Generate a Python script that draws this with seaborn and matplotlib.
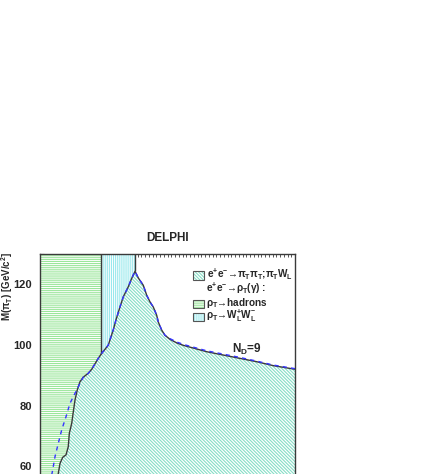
import numpy as np
import matplotlib
matplotlib.use("Agg")
import matplotlib.pyplot as plt
from matplotlib.patches import Rectangle
from matplotlib.ticker import MultipleLocator
import seaborn as sns

# ---- data ----
# solid exclusion contour: x = M(rho_T) [GeV], y = M(pi_T) [GeV/c^2]
x_solid = [102.8, 104.4, 106.7, 110.3, 114.7, 117.7, 119.1, 122.3, 124.4, 126.7, 129.7,
           133.3, 137.7, 144.4, 148.9, 153.3, 157.7, 162.3, 166.7, 171.1, 173.3, 177.7,
           181.3, 186.7, 191.1, 197.7, 202.3, 206.7, 211.1, 213.3, 217.7, 222.3, 226.7,
           231.1, 235.6, 237.7, 242.3, 246.7, 253.3, 262.3, 271.1, 280.0, 302.2, 324.4,
           346.7, 368.9, 391.1, 420.4]
y_solid = [54.0, 57.7, 61.0, 63.0, 63.8, 66.5, 70.9, 74.2, 78.0, 81.9, 85.2,
           87.9, 89.4, 90.7, 92.0, 93.8, 95.6, 97.3, 98.6, 100.0, 101.7, 105.0,
           108.3, 112.6, 115.9, 119.2, 122.0, 124.3, 122.1, 121.3, 119.7, 116.4, 114.2,
           112.5, 109.8, 107.6, 104.9, 103.2, 101.9, 100.7, 99.9, 99.3, 97.8, 96.7,
           95.6, 94.5, 93.2, 92.0]
# dashed expected contour
x_dash = [93.0, 96.9, 100.0, 104.4, 108.9, 114.7, 120.0, 126.7, 133.3, 137.7, 144.4,
          148.9, 153.3, 157.7, 162.3, 166.7, 171.1, 173.3, 177.7, 181.3, 186.7, 191.1,
          197.7, 202.3, 206.7, 211.1, 213.3, 217.7, 222.3, 226.7, 231.1, 235.6, 237.7,
          242.3, 246.7, 253.3, 262.3, 271.1, 280.0, 302.2, 324.4, 346.7, 368.9, 391.1,
          420.4]
y_dash = [54.0, 58.8, 63.2, 67.6, 72.0, 76.4, 80.8, 84.1, 87.4, 89.4, 90.7,
          92.0, 93.8, 95.6, 97.3, 98.6, 100.0, 101.7, 105.0, 108.3, 112.6, 115.9,
          119.2, 122.0, 124.3, 122.1, 121.3, 119.7, 116.4, 114.2, 112.5, 109.8, 107.6,
          104.9, 103.2, 102.1, 101.0, 100.2, 99.6, 98.1, 97.0, 95.9, 94.7, 93.4,
          92.2]
ww_threshold = 161.3      # boundary hadrons / W_L W_L region
sqrt_s = 206.7            # right edge of W_L W_L region
x_range = [80.0, 420.0]
y_range = [54.2, 130.0]
y_ticks = [60, 80, 100, 120]
legend_labels = [
    r'e$^{+}$e$^{-}$→π$_{T}$π$_{T}$;π$_{T}$W$_{L}$',
    r'e$^{+}$e$^{-}$→ρ$_{T}$(γ) :',
    r'ρ$_{T}$→hadrons',
    r'ρ$_{T}$→W$_{L}^{+}$W$_{L}^{-}$',
]

# ---- style ----
sns.set_theme(style="white")
plt.rcParams['font.family'] = ['Liberation Sans', 'DejaVu Sans']
plt.rcParams['font.weight'] = 'bold'
plt.rcParams['mathtext.fontset'] = 'custom'
plt.rcParams['mathtext.rm'] = 'Liberation Sans:bold'
plt.rcParams['mathtext.it'] = 'Liberation Sans:bold'
plt.rcParams['mathtext.bf'] = 'Liberation Sans:bold'
plt.rcParams['hatch.linewidth'] = 0.8

c_diag = '#86dec6'
c_green = '#9ae69a'
c_cyan = '#98e8ec'
c_line = '#3a3a3a'
c_blue = '#3535ff'
h_diag = '\\' * 10
h_green = '-' * 8
h_cyan = '|' * 8

fig = plt.figure(figsize=(4.25, 4.74), dpi=100)
ax = fig.add_axes([40/425, 1 - 484/474, 255/425, 230/474])

xs = np.array(x_solid)
ys = np.array(y_solid)
y_thr = np.interp(ww_threshold, xs, ys)
y_top = y_range[1]
y_bot = y_range[0] - 1

# diagonal-hatched region below the contour
ax.fill_between(xs, y_bot, ys, facecolor='white', edgecolor=c_diag,
                hatch=h_diag, linewidth=0, zorder=1)

# green (rho_T -> hadrons) region
m = xs < ww_threshold
gx = np.concatenate([[x_range[0], xs[0]], xs[m], [ww_threshold, ww_threshold, x_range[0]]])
gy = np.concatenate([[y_bot, y_bot], ys[m], [y_thr, y_top, y_top]])
ax.fill(gx, gy, facecolor='white', edgecolor=c_green, hatch=h_green, linewidth=0, zorder=1)

# cyan (rho_T -> W_L W_L) region
m2 = (xs > ww_threshold) & (xs <= sqrt_s)
cx = np.concatenate([[ww_threshold], xs[m2], [sqrt_s, ww_threshold]])
cy = np.concatenate([[y_thr], ys[m2], [y_top, y_top]])
ax.fill(cx, cy, facecolor='white', edgecolor=c_cyan, hatch=h_cyan, linewidth=0, zorder=1)

ax.vlines([ww_threshold], y_thr, y_top, color=c_line, lw=1.0, zorder=3)
ax.vlines([sqrt_s], np.interp(sqrt_s, xs, ys), y_top, color=c_line, lw=1.0, zorder=3)

sns.lineplot(x=x_solid, y=y_solid, ax=ax, color=c_line, lw=1.0, zorder=4, sort=False)
sns.lineplot(x=x_dash, y=y_dash, ax=ax, color=c_blue, lw=1.0, zorder=5, sort=False,
             linestyle=(0, (3, 3)))

ax.set_xlim(x_range)
ax.set_ylim(y_range)
ax.set_yticks(y_ticks)
ax.yaxis.set_minor_locator(MultipleLocator(5))
ax.xaxis.set_major_locator(MultipleLocator(5))
ax.tick_params(axis='y', which='major', direction='in', length=6.5, width=0.9,
               color=c_line, labelsize=8, pad=5.5, left=True, right=False)
ax.tick_params(axis='y', which='minor', direction='in', length=3.2, width=0.8,
               color=c_line, left=True, right=False)
ax.tick_params(axis='x', which='both', direction='in', length=1.8, width=0.6,
               color=c_line, top=True, bottom=False, labeltop=False, labelbottom=False)
for lab in ax.get_yticklabels():
    lab.set_fontweight('bold')
for s in ax.spines.values():
    s.set_color(c_line)
    s.set_linewidth(1.0)
    s.set_zorder(6)

ax.set_title('DELPHI', fontsize=8.5, fontweight='bold', pad=9)
ax.set_ylabel(r'M(π$_{T}$) [GeV/c$^{2}$]', fontsize=7.0, fontweight='bold',
              ha='right', va='center')
ax.yaxis.set_label_coords(-0.128, 1.01)

# ---- legend (drawn in axes coordinates) ----
box_x, box_w = 0.600, 0.043
rows = [  # (box y0, box h, text x, text baseline, hatch, colour)
    (0.889, 0.039, 0.656, 0.898, h_diag, c_diag),
    (None, None, 0.651, 0.834, None, None),
    (0.764, 0.035, 0.651, 0.776, h_green, c_green),
    (0.707, 0.035, 0.651, 0.716, h_cyan, c_cyan),
]
for (by, bh, tx, ty, hp, hc), lab in zip(rows, legend_labels):
    if by is not None:
        ax.add_patch(Rectangle((box_x, by), box_w, bh, transform=ax.transAxes,
                               facecolor='white', edgecolor=hc, hatch=hp, lw=0,
                               zorder=7))
        ax.add_patch(Rectangle((box_x, by), box_w, bh, transform=ax.transAxes,
                               facecolor='none', edgecolor='#555555', lw=0.8, zorder=8))
    ax.text(tx, ty, lab, transform=ax.transAxes, fontsize=7.2, fontweight='bold',
            va='baseline', ha='left', zorder=8)

ax.text(0.753, 0.571, r'N$_{D}$=9', transform=ax.transAxes, fontsize=8.5,
        fontweight='bold', va='baseline', ha='left', zorder=7)

fig.savefig('out.png', dpi=100)
